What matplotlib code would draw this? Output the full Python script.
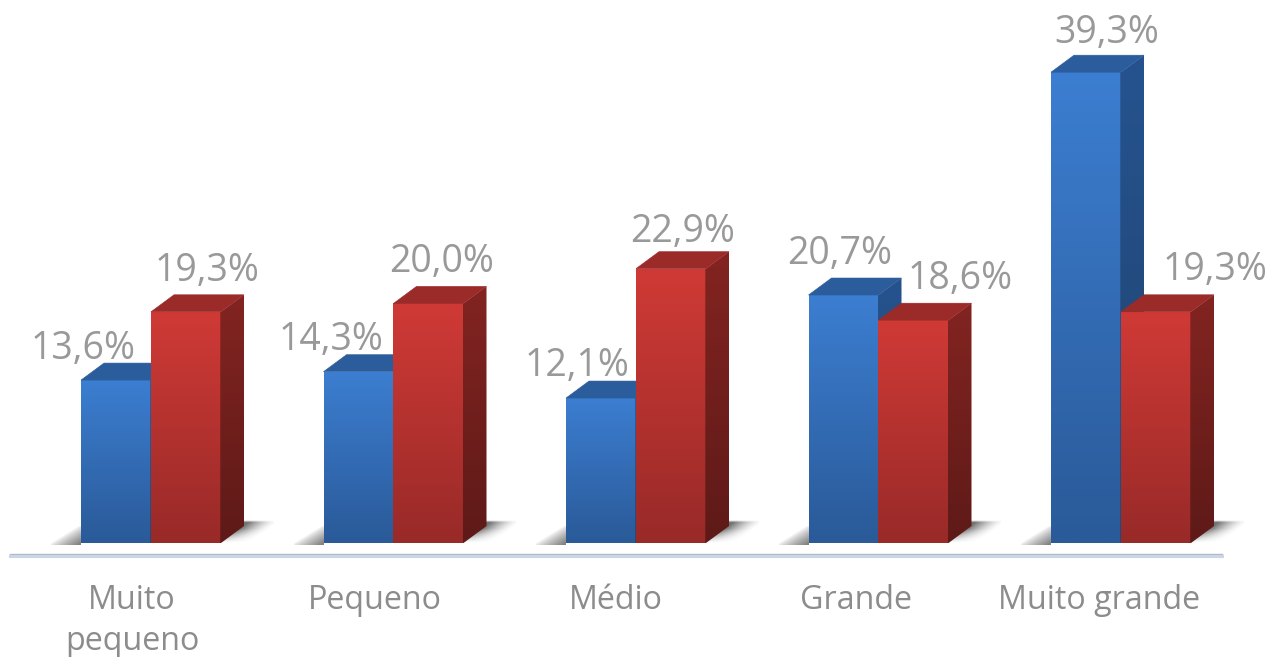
import numpy as np
import matplotlib
matplotlib.use('Agg')
import matplotlib.pyplot as plt
from matplotlib.colors import LinearSegmentedColormap
from matplotlib.patches import Polygon

categories = ['Muito\npequeno', 'Pequeno', 'Médio', 'Grande', 'Muito grande']
blue_values = [13.6, 14.3, 12.1, 20.7, 39.3]
red_values = [19.3, 20.0, 22.9, 18.6, 19.3]

# label offsets from the bar centre / bar top, in pixels
blue_offsets = [(-33, 35), (-27, 36), (-24, 36), (-4, 45), (21, 43)]
red_offsets = [(21, 45), (13, 45), (12, 41), (47, 45), (59, 46)]
label_shift = [-19, -19, -20, -22, -22]

W, H = 1277, 657
GROUP_X0, GROUP_STEP = 151, 242.5
BASE_Y, PX_PER_UNIT = 543, 11.98

BAR_W = 70 / GROUP_STEP
DX = 23 / GROUP_STEP
DY = 17 / PX_PER_UNIT
EPS = 0.7 / GROUP_STEP

plt.rcParams['font.family'] = ['Open Sans', 'DejaVu Sans']

fig = plt.figure(figsize=(W / 100, H / 100), dpi=100)
ax = fig.add_axes([0, 0, 1, 1])
ax.set_xlim(-GROUP_X0 / GROUP_STEP, (W - GROUP_X0) / GROUP_STEP)
ax.set_ylim((BASE_Y - H) / PX_PER_UNIT, BASE_Y / PX_PER_UNIT)
ax.axis('off')
xlim, ylim = ax.get_xlim(), ax.get_ylim()


def gradient(x0, x1, y0, y1, c_top, c_bottom, clip, z=2):
    cmap = LinearSegmentedColormap.from_list('g', [c_top, c_bottom])
    grad = np.linspace(0, 1, 256)[:, None]
    im = ax.imshow(grad, cmap=cmap, extent=(x0, x1, y0, y1), origin='upper',
                   aspect='auto', zorder=z, interpolation='bilinear')
    patch = Polygon(clip, closed=True, transform=ax.transData, fc='none', ec='none')
    ax.add_patch(patch)
    im.set_clip_path(patch)


def shadow(x_left, x_right):
    # soft shadows on the floor, either side of the bar pair
    sx = 30 / GROUP_STEP
    x0, x1 = x_left - sx, x_left
    y0, y1 = -2 / PX_PER_UNIT, DY
    xs, ys = np.meshgrid(np.linspace(x0, x1, 60), np.linspace(y1, y0, 40))
    alpha = np.clip(1 - (x_left - xs) / sx - ys / (DY * 1.1), 0, 1) ** 0.8 * 0.75
    rgba = np.dstack([np.full_like(xs, 0.35)] * 3 + [alpha])
    ax.imshow(rgba, extent=(x0, x1, y0, y1), origin='upper', aspect='auto', zorder=1,
              interpolation='bilinear')

    x0, x1 = x_right, x_right + DX + sx
    y0, y1 = 0, DY * 1.3
    xs, ys = np.meshgrid(np.linspace(x0, x1, 90), np.linspace(y1, y0, 40))
    d = xs - (x_right + DX * ys / DY)
    alpha = np.clip(1 - d / sx, 0, 1) ** 1.5 * np.clip(ys * PX_PER_UNIT / 14, 0, 1) * 0.8
    alpha *= np.clip((DY * 1.3 - ys) * PX_PER_UNIT / 2, 0, 1)
    rgba = np.dstack([np.full_like(xs, 0.3)] * 3 + [alpha])
    ax.imshow(rgba, extent=(x0, x1, y0, y1), origin='upper', aspect='auto', zorder=1,
              interpolation='bilinear')


def bar3d(x, h, front, side, top, z):
    l, r = x, x + BAR_W
    gradient(l, r, 0, h, front[0], front[1], [(l, 0), (r, 0), (r, h), (l, h)], z=z)
    gradient(r - EPS, r + DX, 0, h + DY, side[0], side[1],
             [(r - EPS, 0), (r, 0), (r + DX, DY), (r + DX, h + DY), (r, h), (r - EPS, h)], z=z)
    ax.add_patch(Polygon([(l, h), (r, h), (r + DX, h + DY), (l + DX, h + DY)], closed=True,
                         fc=top, ec=top, lw=0.4, zorder=z))


blue_style = (('#3c7ed1', '#2a5a98'), ('#26538f', '#1f436f'), '#2b5c9b')
red_style = (('#d03a36', '#982a28'), ('#832421', '#5e1a18'), '#9a2b29')

for i in range(len(categories)):
    shadow(i - BAR_W, i + BAR_W)
    bar3d(i - BAR_W, blue_values[i], *blue_style, z=2 + i * 2)
    bar3d(i, red_values[i], *red_style, z=3 + i * 2)

for i in range(len(categories)):
    for val, off, cx in [(blue_values[i], blue_offsets[i], i - BAR_W / 2),
                         (red_values[i], red_offsets[i], i + BAR_W / 2)]:
        ax.annotate(f'{val:.1f}%'.replace('.', ','), xy=(cx, val),
                    xytext=(off[0] * 0.72, (off[1] - 4) * 0.72),
                    textcoords='offset points', ha='center', va='center',
                    fontsize=27, color='#999999', zorder=30)

# floor line
x_a = (10 - GROUP_X0) / GROUP_STEP
x_b = (1222 - GROUP_X0) / GROUP_STEP
ax.plot([x_a, x_b], [-10.5 / PX_PER_UNIT] * 2, color='#b4b9c2', lw=1, zorder=1)
ax.plot([x_a, x_b], [-12.5 / PX_PER_UNIT] * 2, color='#c9d6ea', lw=2.2, zorder=1)

# category labels
for i, cat in enumerate(categories):
    ax.text(i + label_shift[i] / GROUP_STEP, -41 / PX_PER_UNIT, cat, ha='center', va='top',
            fontsize=23.2, color='#8c8c8c', linespacing=1.32)

ax.set_xlim(xlim)
ax.set_ylim(ylim)
fig.savefig('out.png', dpi=100)
